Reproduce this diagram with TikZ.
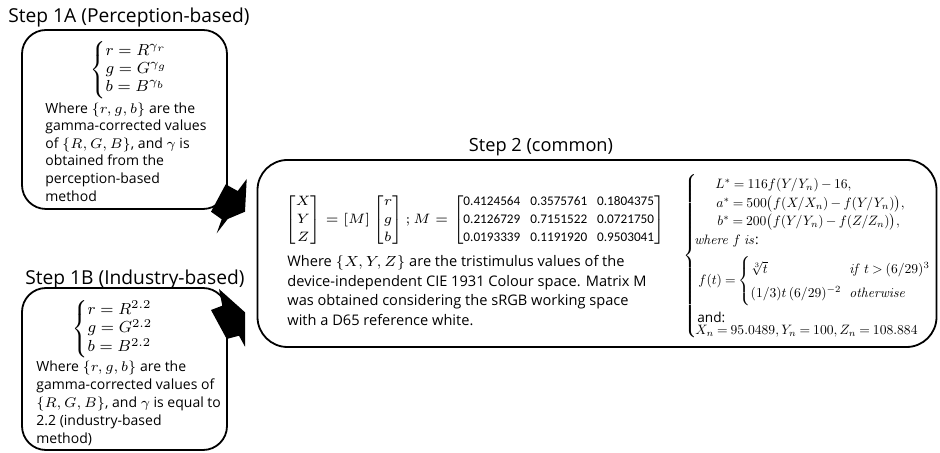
\RequirePackage{fix-cm}
\documentclass[tikz,border=0pt]{standalone}
\usepackage{amsmath}
\usepackage{amssymb}
\usepackage{graphicx}
\usepackage[no-math]{fontspec}
\setmainfont{Open Sans}
\newfontfamily\numfont{Carlito}
\usetikzlibrary{positioning}
\newcommand{\mnum}[1]{\text{\numfont\fontsize{6.6}{7}\selectfont #1}}
\newcommand{\labbox}[1]{\scalebox{0.68}{#1}}
\tikzset{
    stepbox/.style={rectangle, rounded corners=12pt, draw=black, line width=0.9pt},
    steptitle/.style={font=\fontsize{9.6}{11}\selectfont, inner sep=0pt},
    bodytext/.style={font=\fontsize{7}{8.8}\selectfont, align=left, anchor=north west, inner sep=0pt},
    eqtext/.style={font=\fontsize{6.8}{9}\selectfont, anchor=west, inner sep=0pt},
    labtext/.style={font=\fontsize{10}{12}\selectfont, anchor=west, inner sep=0pt,
        execute at begin node={\thickmuskip=4mu\relax\medmuskip=3mu\relax}},
    blockarrow/.style={fill=black, draw=none},
}

\begin{document}
\begin{tikzpicture}[x=0.5pt, y=-0.5pt]
    \useasboundingbox (0,0) rectangle (940,453);
    % step boxes
    \node[stepbox, minimum width=102.5pt, minimum height=89.5pt] (boxA) at (124.5,119.5) {};
    \node[stepbox, minimum width=102.5pt, minimum height=81pt] (boxB) at (124.5,369) {};
    \node[stepbox, rounded corners=15pt, minimum width=339.5pt, minimum height=93.5pt] (boxC) at (597,253.5) {};
    % titles
    \node[steptitle, anchor=west] (titleA) at (8,18) {Step 1A (Perception-based)};
    \node[steptitle, anchor=west] (titleB) at (25,280) {Step 1B (Industry-based)};
    \node[steptitle, font=\fontsize{9.1}{11}\selectfont] (titleC) at (541,147) {Step 2 (common)};
    % step 1A
    \node[eqtext, font=\fontsize{8}{7.5}\selectfont] (eqA) at (90,70) {$\begin{cases} r = R^{\gamma_r}\\ g = G^{\gamma_g}\\ b = B^{\gamma_b}\end{cases}$};
    \node[bodytext] (txtA) at (45,102) {Where $\{r,g,b\}$ are the\\ gamma-corrected values\\ of $\{R,G,B\}$, and $\gamma$ is\\ obtained from the\\ perception-based\\ method};
    % step 1B
    \node[eqtext, font=\fontsize{8}{7.5}\selectfont] (eqB) at (72,329) {$\begin{cases} r = R^{2.2}\\ g = G^{2.2}\\ b = B^{2.2}\end{cases}$};
    \node[bodytext, font=\fontsize{7}{9}\selectfont] (txtB) at (36,360) {Where $\{r,g,b\}$ are the\\ gamma-corrected values of\\ $\{R,G,B\}$, and $\gamma$ is equal to\\ 2.2 (industry-based\\ method)};
    % step 2
    \node[eqtext] (eqM) at (285,220) {\setlength\arraycolsep{2.5pt}$\begin{bmatrix}X\\Y\\Z\end{bmatrix} = [M]\begin{bmatrix}r\\g\\b\end{bmatrix}; M = \begin{bmatrix}\mnum{0.4124564} & \mnum{0.3575761} & \mnum{0.1804375}\\ \mnum{0.2126729} & \mnum{0.7151522} & \mnum{0.0721750}\\ \mnum{0.0193339} & \mnum{0.1191920} & \mnum{0.9503041}\end{bmatrix}$};
    \node[bodytext, font=\fontsize{7.3}{9.75}\selectfont] (txtC) at (287,255) {Where $\{X,Y,Z\}$ are the tristimulus values of the\\ device-independent CIE 1931 Colour space. Matrix M\\ was obtained considering the sRGB working space\\ with a D65 reference white.};
    \node[eqtext] (brace) at (683,257) {$\left\{\rule[-40pt]{0pt}{80pt}\right.$};
    \node[labtext] (lab1) at (715,185) {\labbox{$L^{*} = 116f(Y/Y_n) - 16,$}};
    \node[labtext] (lab2) at (716,204) {\labbox{$a^{*} = 500\bigl(f(X/X_n) - f(Y/Y_n)\bigr),$}};
    \node[labtext] (lab3) at (717,222) {\labbox{$b^{*} = 200\bigl(f(Y/Y_n) - f(Z/Z_n)\bigr),$}};
    \node[labtext] (whref) at (694,241) {\labbox{$\mathit{where}\ f\ \mathit{is}$:}};
    \node[labtext] (fdef) at (698,281) {\labbox{\renewcommand\arraystretch{1.45}$f(t) = \left\{\begin{array}{@{}l@{\hspace{6pt}}l@{}}\sqrt[3]{t} & \mathit{if}\ t > (6/29)^{3}\\ (1/3)t\,(6/29)^{-2} & \mathit{otherwise}\end{array}\right.$}};
    \node[labtext] (andtxt) at (697,317) {\labbox{and:}};
    \node[labtext] (refw) at (695,331) {\labbox{$X_n = 95.0489, Y_n = 100, Z_n = 108.884$}};
    % arrows into step 2
    \fill[blockarrow] (225.7,184.3) -- (237.7,191) -- (246.7,179) -- (245,211.7) -- (227.7,219) -- (216.7,233.3) -- (221.7,219.3) -- (211,211.7) -- cycle;
    \fill[blockarrow] (219,289) -- (245,312.3) -- (245,346.7) -- (239,335.7) -- (226.7,339) -- (211,310) -- (222.3,305.7) -- cycle;
\end{tikzpicture}
\end{document}
